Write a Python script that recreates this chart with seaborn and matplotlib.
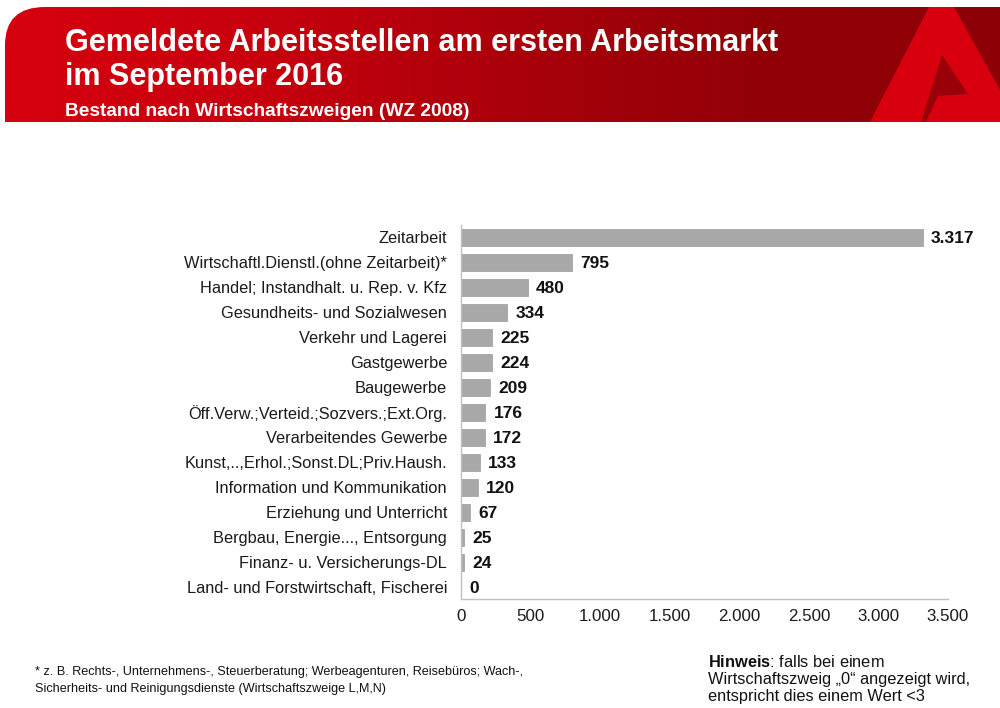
import numpy as np
import pandas as pd
import seaborn as sns
import matplotlib.pyplot as plt
from matplotlib.patches import Polygon, PathPatch
from matplotlib.path import Path
from matplotlib.colors import LinearSegmentedColormap
from matplotlib.ticker import FuncFormatter

branchen = ['Zeitarbeit', 'Wirtschaftl.Dienstl.(ohne Zeitarbeit)*',
            'Handel; Instandhalt. u. Rep. v. Kfz', 'Gesundheits- und Sozialwesen',
            'Verkehr und Lagerei', 'Gastgewerbe', 'Baugewerbe',
            'Öff.Verw.;Verteid.;Sozvers.;Ext.Org.', 'Verarbeitendes Gewerbe',
            'Kunst,..,Erhol.;Sonst.DL;Priv.Haush.', 'Information und Kommunikation',
            'Erziehung und Unterricht', 'Bergbau, Energie..., Entsorgung',
            'Finanz- u. Versicherungs-DL', 'Land- und Forstwirtschaft, Fischerei']
bestand = [3317, 795, 480, 334, 225, 224, 209, 176, 172, 133, 120, 67, 25, 24, 0]
x_ticks = [0, 500, 1000, 1500, 2000, 2500, 3000, 3500]

df = pd.DataFrame({'branche': branchen, 'bestand': bestand})

sns.set_style('white')
plt.rcParams['font.family'] = ['Liberation Sans', 'DejaVu Sans']
plt.rcParams['mathtext.fontset'] = 'custom'
plt.rcParams['mathtext.rm'] = 'Liberation Sans'
plt.rcParams['mathtext.bf'] = 'Liberation Sans:bold'


def de(v, pos=None):
    return f'{int(v):,}'.replace(',', '.')


fig = plt.figure(figsize=(10, 7.08), dpi=100)

# header band in pixel coordinates
bg = fig.add_axes([0, 0, 1, 1], zorder=0)
bg.set_xlim(0, 1000)
bg.set_ylim(708, 0)
bg.axis('off')
cmap = LinearSegmentedColormap.from_list('ba', ['#d6000f', '#c8000e', '#ab000b', '#930008', '#8e0007'])
grad = np.linspace(0, 1, 400).reshape(1, -1)
img = bg.imshow(grad, cmap=cmap, extent=[5, 1000, 122, 7], aspect='auto', zorder=1)
clip = Path([(5, 122), (5, 45), (5, 7), (45, 7), (1000, 7), (1000, 122), (5, 122)],
            [Path.MOVETO, Path.LINETO, Path.CURVE3, Path.CURVE3, Path.LINETO, Path.LINETO, Path.CLOSEPOLY])
clip_patch = PathPatch(clip, transform=bg.transData, facecolor='none', edgecolor='none')
bg.add_patch(clip_patch)
img.set_clip_path(clip_patch)
bg.add_patch(Polygon([(929, 7), (954, 7), (1000, 90), (1000, 122), (870, 122)],
                     closed=True, facecolor='#d8000f', edgecolor='none', zorder=2))
bg.add_patch(Polygon([(942, 55), (968, 94), (938, 96), (926, 122), (921, 122)],
                     closed=True, facecolor='#9a0009', edgecolor='none', zorder=3))

fig.text(0.065, 1 - 43 / 708, 'Gemeldete Arbeitsstellen am ersten Arbeitsmarkt',
         color='white', fontsize=22, fontweight='bold', va='center', ha='left')
fig.text(0.065, 1 - 77 / 708, 'im September 2016',
         color='white', fontsize=22, fontweight='bold', va='center', ha='left')
fig.text(0.065, 1 - 111 / 708, 'Bestand nach Wirtschaftszweigen (WZ 2008)',
         color='white', fontsize=13.8, fontweight='bold', va='center', ha='left')

ax = fig.add_axes([0.461, 1 - 599 / 708, 0.487, (599 - 224.5) / 708], zorder=2)
sns.barplot(data=df, x='bestand', y='branche', orient='h', color='#a8a8a8',
            edgecolor='#9a9a9a', linewidth=0.5, saturation=1, width=0.68, ax=ax)
ax.set_xlim(0, 3500)
ax.set_ylim(len(branchen) - 0.52, -0.5)
ax.set_xticks(x_ticks)
ax.xaxis.set_major_formatter(FuncFormatter(de))
ax.set_xlabel('')
ax.set_ylabel('')
ax.tick_params(axis='y', length=0, pad=10, labelsize=11.8, labelcolor='#1a1a1a')
ax.tick_params(axis='x', length=0, pad=7, labelsize=12.2, labelcolor='#1a1a1a')
for s in ['top', 'right']:
    ax.spines[s].set_visible(False)
for s in ['left', 'bottom']:
    ax.spines[s].set_color('#c0c0c0')
    ax.spines[s].set_linewidth(1)

for i, v in enumerate(bestand):
    ax.text(v + 60, i + 0.05, de(v), va='center', ha='left', fontsize=12.5,
            fontweight='bold', color='#111111')

fig.text(0.035, 1 - 672 / 708,
         '* z. B. Rechts-, Unternehmens-, Steuerberatung; Werbeagenturen, Reisebüros; Wach-,',
         fontsize=9.1, va='center', color='#111111')
fig.text(0.035, 1 - 689 / 708,
         'Sicherheits- und Reinigungsdienste (Wirtschaftszweige L,M,N)',
         fontsize=9.1, va='center', color='#111111')

fig.text(0.708, 1 - 667 / 708, r'$\bf{Hinweis}$: falls bei einem',
         fontsize=11.8, va='baseline', color='#111111')
fig.text(0.708, 1 - 684 / 708, 'Wirtschaftszweig „0“ angezeigt wird,',
         fontsize=11.8, va='baseline', color='#111111')
fig.text(0.708, 1 - 701 / 708, 'entspricht dies einem Wert <3',
         fontsize=11.8, va='baseline', color='#111111')

fig.savefig('out.png', dpi=100)
